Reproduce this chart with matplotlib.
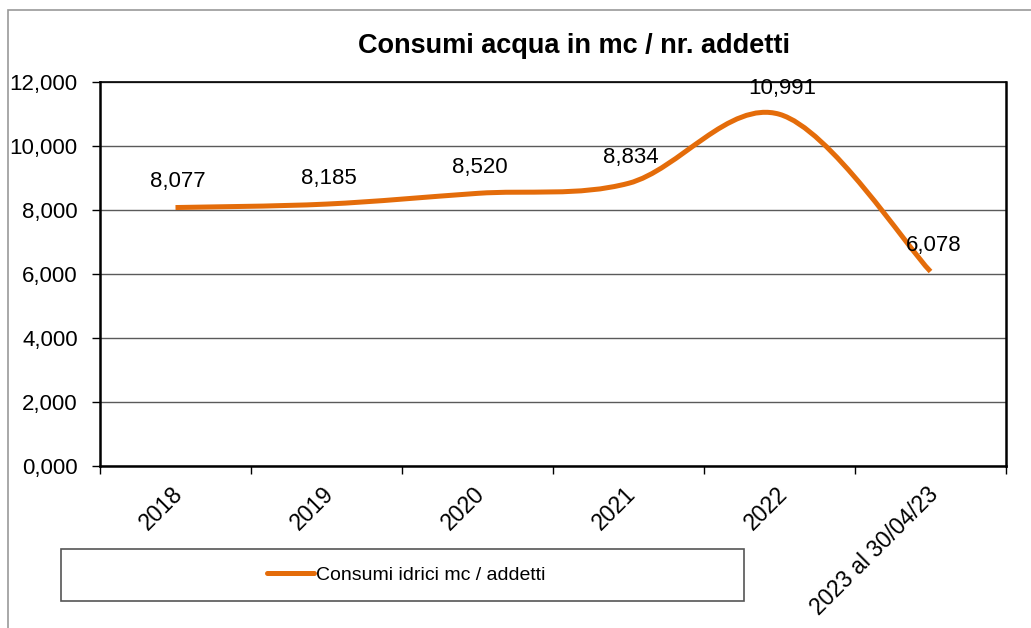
import numpy as np
import matplotlib
matplotlib.use("Agg")
import matplotlib.pyplot as plt
from matplotlib.path import Path
from matplotlib.patches import PathPatch, Rectangle
from matplotlib.lines import Line2D
from matplotlib.ticker import FuncFormatter
from matplotlib.transforms import ScaledTranslation

# data
categories = ['2018', '2019', '2020', '2021', '2022', '2023 al 30/04/23']
consumi = [8.077, 8.185, 8.520, 8.834, 10.991, 6.078]
y_ticks = [0, 2, 4, 6, 8, 10, 12]

title = 'Consumi acqua in mc / nr. addetti'
series_name = 'Consumi idrici mc / addetti'
orange = '#E46C0A'

plt.rcParams['font.family'] = ['Liberation Sans', 'DejaVu Sans']

W, H = 1031, 628


def fmt_it(v):
    # Italian style decimal comma, three decimals
    return f'{v:.3f}'.replace('.', ',')


def smooth_path(xs, ys):
    """Excel-like smoothed line as cubic bezier (catmull-rom control points)."""
    pts = np.column_stack([xs, ys]).astype(float)
    n = len(pts)
    verts = [pts[0]]
    codes = [Path.MOVETO]
    for i in range(n - 1):
        p0 = pts[i - 1] if i > 0 else pts[i]
        p1 = pts[i]
        p2 = pts[i + 1]
        p3 = pts[i + 2] if i + 2 < n else pts[i + 1]
        c1 = p1 + (p2 - p0) / 6.0
        c2 = p2 - (p3 - p1) / 6.0
        verts += [c1, c2, p2]
        codes += [Path.CURVE4] * 3
    return Path(verts, codes)


fig = plt.figure(figsize=(W / 100, H / 100), dpi=100)
ax = fig.add_axes([100 / W, 1 - 466 / H, 906 / W, 384 / H])

x = np.arange(len(categories)) + 0.5
ax.set_xlim(0, len(categories))
ax.set_ylim(0, 12)

# gridlines
ax.set_yticks(y_ticks)
ax.yaxis.grid(True, color='#5a5a5a', lw=1.0)
ax.set_axisbelow(True)
ax.yaxis.set_major_formatter(FuncFormatter(lambda v, p: fmt_it(v)))
ax.tick_params(axis='y', direction='out', length=6, width=1, pad=10,
               labelsize=16, colors='black')

# category boundaries as ticks, labels at centres
ax.set_xticks(np.arange(len(categories) + 1))
ax.set_xticklabels([])
ax.tick_params(axis='x', which='major', direction='out', length=6, width=1)
ax.set_xticks(x, minor=True)
ax.set_xticklabels(categories, minor=True, rotation=45, ha='right',
                   va='top', rotation_mode='anchor')
ax.tick_params(axis='x', which='minor', length=0, pad=12, labelsize=16.5)
shift = ScaledTranslation(-0.04, 0, fig.dpi_scale_trans)
for lab in ax.get_xticklabels(minor=True):
    lab.set_transform(lab.get_transform() + shift)

for s in ['left', 'bottom', 'right']:
    ax.spines[s].set_linewidth(1.8)
ax.spines['top'].set_linewidth(1.2)

# smoothed series line
patch = PathPatch(smooth_path(x, consumi), fill=False, edgecolor=orange,
                  lw=3.6, capstyle='butt', zorder=3)
ax.add_patch(patch)

for xi, v in zip(x, consumi):
    ax.annotate(fmt_it(v), (xi, v), xytext=(2, 18.5), textcoords='offset points',
                ha='center', va='center', fontsize=16, zorder=4)

fig.text(574 / W, 1 - 46 / H, title, ha='center', va='center',
         fontsize=19.5, fontweight='bold')

# legend box
fig.patches.append(Rectangle((61 / W, 1 - 601 / H), 683 / W, 52 / H,
                             transform=fig.transFigure, fill=False,
                             edgecolor='#555555', lw=1.2))
handle = Line2D([], [], color=orange, lw=3.6, solid_capstyle='round')
fig.legend([handle], [series_name], loc='center',
           bbox_to_anchor=(406 / W, 1 - 575 / H), frameon=False,
           fontsize=14, handlelength=2.4, handletextpad=0.1)

# outer chart border
fig.patches.append(Rectangle((8 / W, -0.05), 1.1, 1 - 10 / H + 0.05,
                             transform=fig.transFigure, fill=False,
                             edgecolor='#999999', lw=1.2))

fig.savefig('out.png', dpi=100)
